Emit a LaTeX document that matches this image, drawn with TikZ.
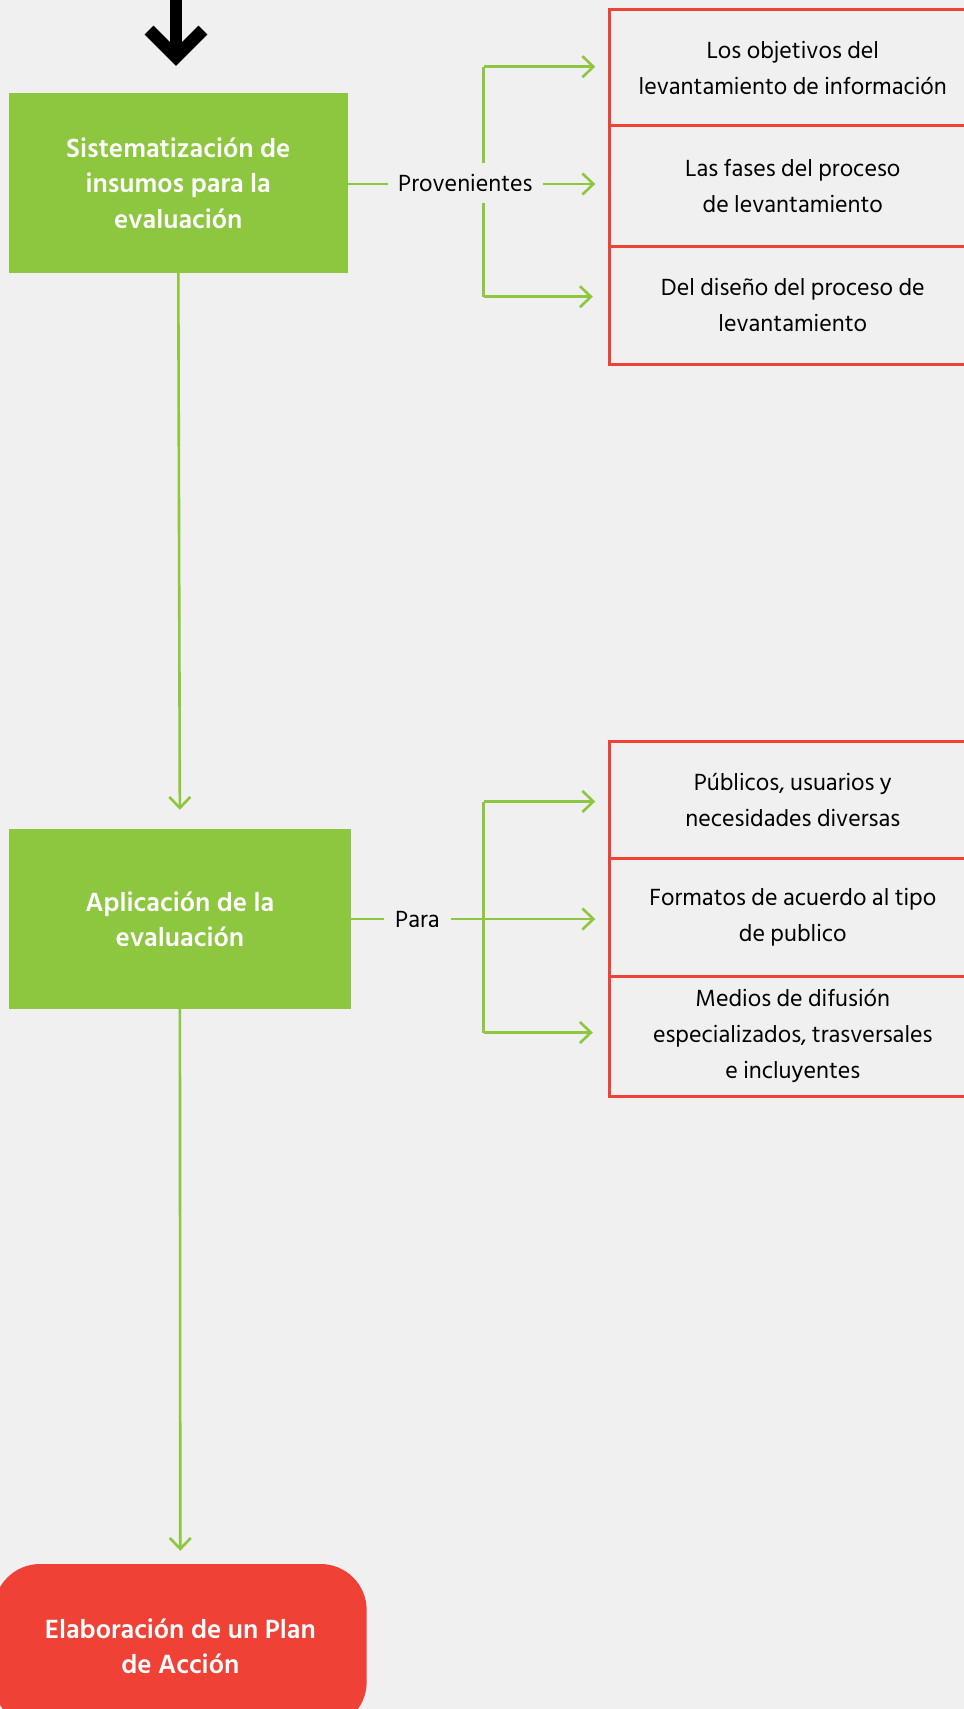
\documentclass[tikz,border=0pt]{standalone}
\usepackage{fontspec}
\setmainfont{Hind Siliguri}
\usetikzlibrary{arrows.meta}
\definecolor{bg}{HTML}{F0F0F0}
\definecolor{leaf}{HTML}{8DC63F}
\definecolor{tomato}{HTML}{EF4136}

\begin{document}
\begin{tikzpicture}[x=1pt,y=-1pt,
  link/.style={draw=leaf, line width=2.6pt},
  flow/.style={link, -{Straight Barb[length=11pt,width=21pt,line width=2.6pt]}},
  stagebox/.style={fill=leaf, text=white, inner sep=0pt, align=center,
    font=\bfseries\fontsize{27}{35.5}\selectfont},
  itembox/.style={draw=tomato, line width=3pt, inner sep=0pt, align=center,
    minimum width=366pt, font=\fontsize{24}{36}\selectfont},
  tag/.style={fill=bg, inner sep=0pt, font=\fontsize{24}{26}\selectfont}
]
\useasboundingbox (0,0) rectangle (964,1709);
\clip (0,0) rectangle (964,1709);
\fill[bg] (0,0) rectangle (964,1709);

% incoming arrow at the top
\coordinate (inTop) at (176,-10);
\coordinate (inTip) at (176,57);
\draw[line width=12.5pt] (inTop) -- (inTip);
\draw[line width=12.5pt, line join=miter] (149,30) -- (inTip) -- (203,30);

% main stages
\node[stagebox, minimum width=338.7pt, minimum height=180pt] (s1) at (178.3,183)
  {Sistematización de\\insumos para la\\evaluación};
\node[stagebox, minimum width=341.7pt, minimum height=180pt] (s2) at (179.9,919)
  {Aplicación de la\\evaluación};
\node[stagebox, fill=tomato, rounded corners=46pt, minimum width=372.7pt,
  minimum height=164pt] (s3) at (180.3,1646)
  {Elaboración de un Plan\\de Acción};

% first group of items
\node[itembox, minimum height=116.2pt] (r1a) at (792.8,67.6)
  {Los objetivos del\\levantamiento de información};
\node[itembox, minimum height=120.3pt] (r1b) at (792.8,185.85)
  {Las fases del proceso\\de levantamiento};
\node[itembox, minimum height=118.3pt] (r1c) at (792.8,305.15)
  {Del diseño del proceso de\\levantamiento};

% second group of items
\node[itembox, minimum height=117.3pt] (r2a) at (792.8,799.65)
  {Públicos, usuarios y\\necesidades diversas};
\node[itembox, minimum height=118pt] (r2b) at (792.8,917.3)
  {Formatos de acuerdo al tipo\\de publico};
\node[itembox, minimum height=119.7pt] (r2c) at (792.8,1036.15)
  {Medios de difusión\\especializados, trasversales\\e incluyentes};

% vertical flow between stages
\draw[flow, shorten >=19pt] (s1.south) -- (s2.north);
\draw[flow, shorten >=13pt] (s2.south) -- (s3.north);

% branches of the first stage
\coordinate (b1a) at (483.7,66.7);
\coordinate (b1b) at (483.7,184);
\coordinate (b1c) at (483.7,296.7);
\draw[link] (b1a) -- (b1c);
\draw[flow, shorten >=13pt] (b1a) -- (b1a -| r1a.west);
\draw[flow, shorten >=13pt] (s1.east |- b1b) -- (r1b.west |- b1b);
\draw[flow, shorten >=15.5pt] (b1c) -- (b1c -| r1c.west);
\node[tag, minimum width=154.7pt, minimum height=39.3pt] (t1) at (465.4,183) {Provenientes};

% branches of the second stage
\coordinate (b2a) at (483.7,801.5);
\coordinate (b2b) at (483.7,919);
\coordinate (b2c) at (483.7,1032.5);
\draw[link] (b2a) -- (b2c);
\draw[flow, shorten >=13pt] (b2a) -- (b2a -| r2a.west);
\draw[flow, shorten >=13pt] (s2.east) -- (r2b.west |- b2b);
\draw[flow, shorten >=15.5pt] (b2c) -- (b2c -| r2c.west);
\node[tag, minimum width=67pt, minimum height=39pt] (t2) at (417.5,919) {Para};
\end{tikzpicture}
\end{document}
